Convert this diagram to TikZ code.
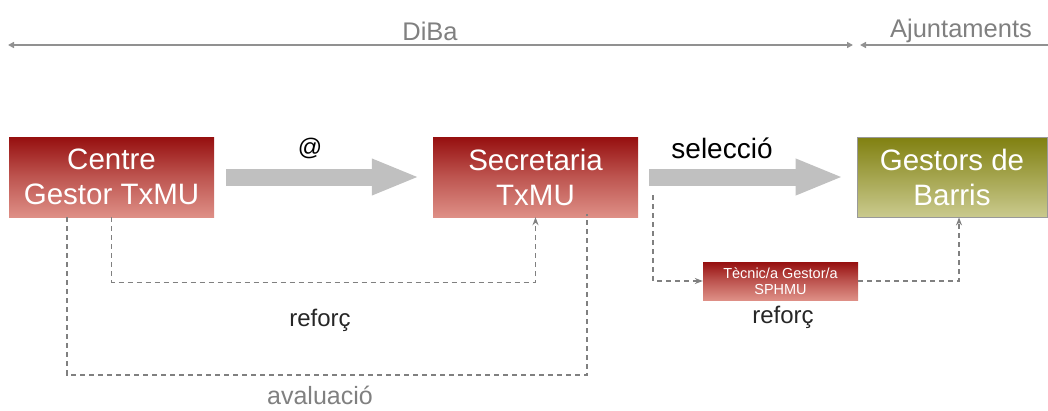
\documentclass[tikz,border=0pt]{standalone}
\usepackage{fontspec}
\setmainfont{Liberation Sans}
\usetikzlibrary{arrows.meta}
\definecolor{redtop}{RGB}{150,15,15}
\definecolor{redbot}{RGB}{222,143,134}
\definecolor{olivetop}{RGB}{128,128,16}
\definecolor{olivebot}{RGB}{202,202,142}
\definecolor{bigarrowc}{RGB}{192,192,192}
\definecolor{dashc}{RGB}{128,128,128}
\definecolor{topc}{RGB}{145,145,145}
\tikzset{
  redbox/.style={rectangle, inner sep=0pt, top color=redtop, bottom color=redbot, middle color=redtop!45!redbot, text=white, align=center},
  bigbox/.style={minimum width=205pt, minimum height=80pt, font=\fontsize{29.5}{35}\selectfont},
  olivebox/.style={rectangle, inner sep=0pt, top color=olivetop, bottom color=olivebot, middle color=olivetop!50!olivebot, draw=gray!80, line width=0.8pt, text=white, align=center, minimum width=190pt, minimum height=80pt, font=\fontsize{29.5}{35}\selectfont},
  smallbox/.style={minimum width=155pt, minimum height=38pt, font=\fontsize{14.5}{16}\selectfont},
  bigarrow/.style={draw=bigarrowc, line width=17pt, -{Triangle[length=48pt,width=33pt]}},
  dashline/.style={draw=dashc, line width=1.2pt, dash pattern=on 5pt off 4pt},
  dasharrow/.style={dashline, -{Stealth[length=8pt,width=6pt]}},
  topline/.style={draw=topc, line width=1.5pt},
  toptip/.tip={Triangle[length=6pt,width=6pt]},
  lbl/.style={inner sep=0pt, font=\fontsize{24}{28}\selectfont},
}
\begin{document}
\begin{tikzpicture}[x=1pt,y=-1pt]
\useasboundingbox (0,0) rectangle (1048,410);
% top scale
\coordinate (tl) at (8,45);
\coordinate (tm) at (853,45);
\coordinate (tn) at (860,45);
\coordinate (tr) at (1049,45);
\draw[topline, toptip-toptip] (tl) -- (tm);
\draw[topline, toptip-] (tn) -- (tr);
\node[lbl, text=dashc, font=\fontsize{25.5}{30}\selectfont] (diba) at (430,31) {DiBa};
\node[lbl, text=dashc, font=\fontsize{25.5}{30}\selectfont] (ajun) at (961,31) {Ajuntaments};
% boxes
\node[redbox, bigbox] (centre) at (111.5,177) {Centre\\Gestor TxMU};
\node[redbox, bigbox] (secr) at (535.5,177) {Secretaria\\TxMU};
\node[olivebox] (gest) at (952,177) {Gestors de\\Barris};
\node[redbox, smallbox] (tec) at (780.5,281) {Tècnic/a Gestor/a\\SPHMU};
% big arrows
\draw[bigarrow, shorten <=12pt, shorten >=13pt] (centre) -- (secr);
\draw[bigarrow, shorten <=11pt, shorten >=13pt] (secr) -- (gest);
\node[lbl] (at) at (310,148) {@};
\node[lbl, font=\fontsize{28}{32}\selectfont] (sel) at (722,148) {selecció};
% dashed connectors
\draw[dasharrow] (centre.south) -- ++(0,65) -| (secr.south);
\coordinate (av1) at ([xshift=-44.5pt]centre.south);
\coordinate (av2) at ([xshift=51.5pt,yshift=3pt]secr.south);
\draw[dashline] (av1) |- (587,375) -- (av2);
\coordinate (s1) at (653,195);
\draw[dasharrow] (s1) |- (tec.west);
\coordinate (g1) at ([xshift=7pt]gest.south);
\draw[dasharrow] (tec.east) -| (g1);
% labels
\node[lbl, text=black!85] (ref1) at (320,320) {reforç};
\node[lbl, text=black!85] (ref2) at (783,317) {reforç};
\node[lbl, text=dashc, font=\fontsize{25}{29}\selectfont] (aval) at (320,395) {avaluació};
\end{tikzpicture}
\end{document}
